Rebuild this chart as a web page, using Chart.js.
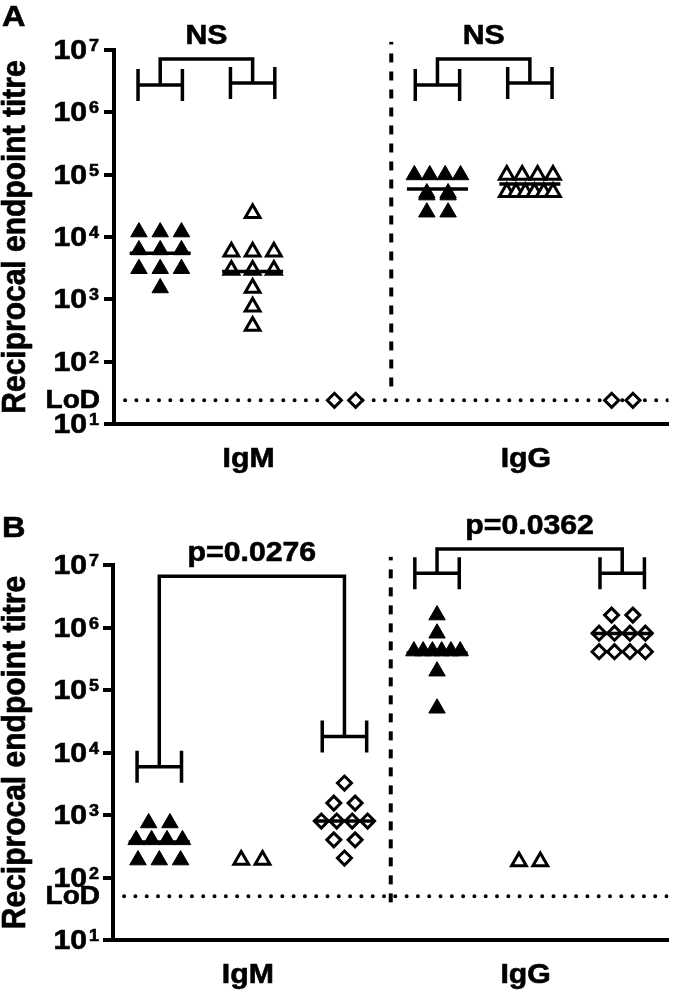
<!DOCTYPE html>
<html>
<head>
<meta charset="utf-8">
<script src="https://cdn.jsdelivr.net/npm/chart.js@4.4.1/dist/chart.umd.min.js"></script>
<style>
  body { margin: 0; background: #fff; }
  #wrap { position: relative; width: 680px; height: 992px; }
  canvas { position: absolute; left: 0; }
</style>
</head>
<body>
<div id="wrap">
  <canvas id="chartA" width="680" height="496" style="top:0"></canvas>
  <canvas id="chartB" width="680" height="496" style="top:496px"></canvas>
</div>
<script>
// antibody classes and where the six groups sit on the x axis
const classes = ['IgM', 'IgG'];
const classPos = [2, 5];
const groupPos = [1, 2, 3, 4, 5, 6];
const decades = [1, 2, 3, 4, 5, 6, 7];

// Panel A - reciprocal endpoint titres
const lodA = 24;
const aFilledIgM = [12000, 12000, 12000, 6200, 6200, 6200, 3100, 3100, 3100, 1520];
const aOpenIgM = [24000, 5800, 5800, 5800, 2950, 2950, 2950, 1520, 760, 372];
const aDiamIgM = [24, 24];
const aFilledIgG = [99000, 99000, 99000, 99000, 50800, 50800, 47000, 47000, 25000, 25000];
const aOpenIgG = [99000, 99000, 99000, 99000, 52000, 52000, 52000, 52000, 52000, 52000];
const aDiamIgG = [24, 24];
const aMedians = [5500, 2800, null, 59000, 71000, null];
// comparison brackets
const aBracketFrom = [1, 4];
const aBracketTo = [2, 5];
const aBarFrom = [2.75e6, 2.75e6];
const aBarTo = [2.95e6, 2.95e6];
const aBracketTop = [7.2e6, 7.2e6];
const aBracketText = ['NS', 'NS'];

// Panel B
const lodB = 50;
const bFilledIgM = [745, 745, 400, 400, 400, 400, 190, 190, 190];
const bOpenIgM = [190, 190];
const bDiamIgM = [3250, 1550, 1550, 800, 800, 800, 800, 400, 400, 205];
const bFilledIgG = [1.58e6, 8.1e5, 4.2e5, 4.2e5, 4.2e5, 4.2e5, 4.2e5, 4.2e5, 2.0e5, 5.1e4];
const bOpenIgG = [180, 180];
const bDiamIgG = [1.58e6, 1.58e6, 8.1e5, 8.1e5, 8.1e5, 8.1e5, 4.1e5, 4.1e5, 4.1e5, 4.1e5];
const bMedians = [370, null, 800, 3.9e5, null, 8.0e5];
const bBracketFrom = [1, 4];
const bBracketTo = [3, 6];
const bBarFrom = [5900, 7.4e6];
const bBarTo = [18000, 7.4e6];
const bBracketTop = [6.6e6, 1.8e7];
const bBracketText = ['p=0.0276', 'p=0.0362'];

const STRETCH = 1.12;
const FONT = 'Arial, "Liberation Sans", sans-serif';

// marker look for each of the six groups
const markers = [
  { shape: 'triangle', r: 9.5, fill: '#000', bw: 1 },
  { shape: 'triangle', r: 8.5, fill: '#fff', bw: 3 },
  { shape: 'rectRot', r: 7, fill: '#fff', bw: 3 },
  { shape: 'triangle', r: 9.5, fill: '#000', bw: 1 },
  { shape: 'triangle', r: 8.5, fill: '#fff', bw: 3 },
  { shape: 'rectRot', r: 7, fill: '#fff', bw: 3 }
];

// equal values are put side by side (scatter dot plot layout)
function spread(values, pos) {
  const counts = {};
  values.forEach(v => counts[v] = (counts[v] || 0) + 1);
  const seen = {};
  return values.map(v => {
    const n = counts[v];
    seen[v] = (seen[v] === undefined) ? 0 : seen[v] + 1;
    const gap = n > 1 ? Math.min(0.23, 0.5 / (n - 1)) : 0;
    return { x: pos + (seen[v] - (n - 1) / 2) * gap, y: v };
  });
}

function text(ctx, str, x, y, size, align) {
  ctx.save();
  ctx.translate(x, y);
  ctx.scale(STRETCH, 1);
  ctx.font = 'bold ' + size + 'px ' + FONT;
  ctx.textAlign = align;
  ctx.textBaseline = 'alphabetic';
  ctx.fillStyle = '#000';
  ctx.strokeStyle = '#000';
  ctx.lineWidth = 0.6;
  ctx.fillText(str, 0, 0);
  ctx.strokeText(str, 0, 0);
  ctx.restore();
}

function textWidth(ctx, str, size) {
  ctx.save();
  ctx.font = 'bold ' + size + 'px ' + FONT;
  const w = ctx.measureText(str).width * STRETCH;
  ctx.restore();
  return w;
}

function makePanel(id, p) {
  const datasets = [];
  p.series.forEach((vals, i) => {
    const m = markers[i];
    datasets.push({
      data: spread(vals, groupPos[i]),
      pointStyle: m.shape,
      pointRadius: m.r,
      backgroundColor: m.fill,
      borderColor: '#000',
      borderWidth: m.bw,
      clip: false
    });
  });
  p.medians.forEach((m, i) => {
    if (m == null) return;
    datasets.push({
      data: [{ x: groupPos[i] - 0.33, y: m }, { x: groupPos[i] + 0.33, y: m }],
      showLine: true, borderColor: '#000', borderWidth: 3.5, pointRadius: 0, order: -1
    });
  });
  // limit of detection
  datasets.push({
    data: [{ x: 0.62, y: p.lod }, { x: 6.5, y: p.lod }],
    showLine: true, borderColor: '#000', borderWidth: 4, borderDash: [0, 11.3],
    borderCapStyle: 'round', pointRadius: 0, order: 1
  });
  // IgM | IgG separator
  datasets.push({
    data: [{ x: 3.5, y: 40 }, { x: 3.5, y: 1.35e7 }],
    showLine: true, borderColor: '#000', borderWidth: 4, borderDash: [9, 9],
    pointRadius: 0, clip: false, order: 1
  });

  const annotations = {
    id: 'annotations',
    afterDatasetsDraw(chart) {
      const ctx = chart.ctx;
      const xs = chart.scales.x;
      const ys = chart.scales.y;
      const area = chart.chartArea;

      // y tick labels 10^k
      decades.forEach(k => {
        const y = ys.getPixelForValue(Math.pow(10, k));
        const sup = String(k);
        const w = textWidth(ctx, sup, 16);
        text(ctx, sup, 99, y + 1, 16, 'right');
        text(ctx, '10', 99 - w - 2, y + 9, 27, 'right');
      });
      text(ctx, 'LoD', 100, ys.getPixelForValue(p.lod) + 8, 25, 'right');

      // y axis title
      ctx.save();
      ctx.translate(25, (area.top + area.bottom) / 2);
      ctx.scale(1.1, 1);
      ctx.rotate(-Math.PI / 2);
      ctx.font = 'bold 30px ' + FONT;
      ctx.textAlign = 'center';
      ctx.fillStyle = '#000';
      ctx.strokeStyle = '#000';
      ctx.lineWidth = 0.6;
      ctx.fillText('Reciprocal endpoint titre', 0, 0);
      ctx.strokeText('Reciprocal endpoint titre', 0, 0);
      ctx.restore();

      // panel letter and class labels
      text(ctx, p.letter, 2, p.letterY, 29, 'left');
      classes.forEach((c, i) => {
        text(ctx, c, xs.getPixelForValue(classPos[i]) - 4, area.bottom + 43, 27, 'center');
      });

      // H bars and comparison brackets
      ctx.save();
      ctx.strokeStyle = '#000';
      ctx.lineWidth = 3.5;
      ctx.lineCap = 'butt';
      ctx.lineJoin = 'miter';
      const hbar = (pos, val) => {
        const y = ys.getPixelForValue(val);
        const x1 = xs.getPixelForValue(pos - 0.24);
        const x2 = xs.getPixelForValue(pos + 0.24);
        ctx.beginPath();
        ctx.moveTo(x1, y); ctx.lineTo(x2, y);
        ctx.moveTo(x1, y - 16); ctx.lineTo(x1, y + 16);
        ctx.moveTo(x2, y - 16); ctx.lineTo(x2, y + 16);
        ctx.stroke();
      };
      p.from.forEach((f, i) => {
        const t = p.to[i];
        hbar(f, p.barFrom[i]);
        hbar(t, p.barTo[i]);
        const xl = xs.getPixelForValue(f);
        const xr = xs.getPixelForValue(t);
        const yt = ys.getPixelForValue(p.top[i]);
        ctx.beginPath();
        ctx.moveTo(xl, ys.getPixelForValue(p.barFrom[i]));
        ctx.lineTo(xl, yt);
        ctx.lineTo(xr, yt);
        ctx.lineTo(xr, ys.getPixelForValue(p.barTo[i]));
        ctx.stroke();
        text(ctx, p.labels[i], (xl + xr) / 2, yt - 15, 27, 'center');
      });
      ctx.restore();
    }
  };

  return new Chart(document.getElementById(id), {
    type: 'scatter',
    data: { datasets: datasets },
    options: {
      responsive: false,
      animation: false,
      devicePixelRatio: 1,
      events: [],
      layout: { padding: { top: p.padTop, right: 2, left: 0, bottom: 0 } },
      plugins: { legend: { display: false }, tooltip: { enabled: false } },
      scales: {
        x: {
          type: 'linear', min: 0.5, max: 6.5,
          ticks: { display: false },
          grid: { display: false },
          border: { display: true, color: '#000', width: 4 },
          afterFit: s => { s.height = p.xHeight; }
        },
        y: {
          type: 'logarithmic', min: 10, max: 1e7,
          ticks: { display: false },
          grid: { drawOnChartArea: false, drawTicks: true, tickLength: 10, color: '#000', lineWidth: 4 },
          border: { display: true, color: '#000', width: 4 },
          afterBuildTicks: s => { s.ticks = decades.map(k => ({ value: Math.pow(10, k) })); },
          afterFit: s => { s.width = p.yWidth; }
        }
      }
    },
    plugins: [annotations]
  });
}

makePanel('chartA', {
  series: [aFilledIgM, aOpenIgM, aDiamIgM, aFilledIgG, aOpenIgG, aDiamIgG],
  medians: aMedians, lod: lodA,
  from: aBracketFrom, to: aBracketTo, barFrom: aBarFrom, barTo: aBarTo,
  top: aBracketTop, labels: aBracketText,
  letter: 'A', letterY: 26, padTop: 50, xHeight: 72, yWidth: 114
});

makePanel('chartB', {
  series: [bFilledIgM, bOpenIgM, bDiamIgM, bFilledIgG, bOpenIgG, bDiamIgG],
  medians: bMedians, lod: lodB,
  from: bBracketFrom, to: bBracketTo, barFrom: bBarFrom, barTo: bBarTo,
  top: bBracketTop, labels: bBracketText,
  letter: 'B', letterY: 41, padTop: 69, xHeight: 52, yWidth: 113
});
</script>
</body>
</html>
